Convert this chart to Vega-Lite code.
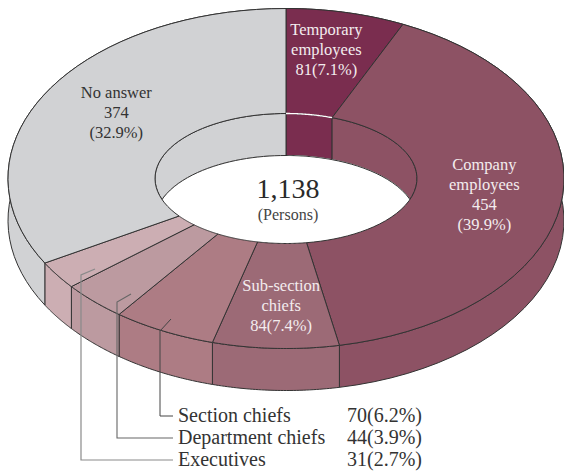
{"$schema":"https://vega.github.io/schema/vega-lite/v6.json","width":564,"height":473,"padding":0,"autosize":{"type":"none"},"background":"white","view":{"stroke":null},
"datasets":{"slices":[
{"seq":1,"role":"Temporary employees","value":81,"share":7.1,"lines":["Temporary","employees","81(7.1%)"]},
{"seq":2,"role":"Company employees","value":454,"share":39.9,"lines":["Company","employees","454","(39.9%)"]},
{"seq":3,"role":"Sub-section chiefs","value":84,"share":7.4,"lines":["Sub-section","chiefs","84(7.4%)"]},
{"seq":4,"role":"Section chiefs","value":70,"share":6.2,"lines":[]},
{"seq":5,"role":"Department chiefs","value":44,"share":3.9,"lines":[]},
{"seq":6,"role":"Executives","value":31,"share":2.7,"lines":[]},
{"seq":7,"role":"No answer","value":374,"share":32.9,"lines":["No answer","374","(32.9%)"]}],
"leaders":[
{"role":"Section chiefs","step":1,"px":-115,"py":-140.5},{"role":"Section chiefs","step":2,"px":-126,"py":-152.5},{"role":"Section chiefs","step":3,"px":-126,"py":-237.5},{"role":"Section chiefs","step":4,"px":-113,"py":-237.5},
{"role":"Department chiefs","step":1,"px":-155,"py":-115.5},{"role":"Department chiefs","step":2,"px":-169,"py":-123.5},{"role":"Department chiefs","step":3,"px":-169,"py":-259.5},{"role":"Department chiefs","step":4,"px":-113,"py":-259.5},
{"role":"Executives","step":1,"px":-191,"py":-90.5},{"role":"Executives","step":2,"px":-205,"py":-96.5},{"role":"Executives","step":3,"px":-205,"py":-281.5},{"role":"Executives","step":4,"px":-113,"py":-281.5}]},
"data":{"name":"slices"},
"transform":[
{"window":[{"op":"sum","field":"value","as":"cum"}],"sort":[{"field":"seq"}],"frame":[null,0]},
{"joinaggregate":[{"op":"sum","field":"value","as":"total"}]},
{"calculate":"2*PI*datum.cum/datum.total","as":"t1"},
{"calculate":"datum.t1-2*PI*datum.value/datum.total","as":"t0"},
{"calculate":"[0,1,2,3,4,5,6,7,8,9,10,11,12,13,14,15,16,17,18,19,20,21,22,23,24,25,26,27,28,29,30,31,32,33,34,35,36,37,38,39,40,41,42,43,44,45,46,47,48,49,50,51,52,53,54,55,56,57,58,59,60,61,62,63,64,65,66,67,68,69,70,71,72,73,74,75,76,77,78,79,80,81,82]","as":"idx"},
{"flatten":["idx"]},
{"calculate":"datum.idx<=40||datum.idx==82","as":"arcA"},
{"calculate":"datum.idx==82?0:(datum.idx<=40?datum.idx/40:(81-datum.idx)/40)","as":"f"},
{"calculate":"datum.t0+(datum.t1-datum.t0)*datum.f","as":"t"},
{"calculate":"datum.t-0.03*abs(sin(datum.t))","as":"t"},
{"calculate":"atan2(0.811*sin(datum.t),cos(datum.t))","as":"ti"},
{"calculate":"278*sin(datum.t)","as":"ox"},
{"calculate":"170*cos(datum.t)","as":"oy"},
{"calculate":"131*sin(datum.ti)","as":"ix"},
{"calculate":"65*cos(datum.ti)","as":"iy"}
],
"layer":[
{"transform":[{"calculate":"datum.ox","as":"gx"},{"calculate":"datum.arcA?datum.oy:datum.oy-42","as":"gy"}],
 "mark":{"type":"line","filled":true,"stroke":"#333333","strokeWidth":1,"strokeJoin":"miter"},
 "encoding":{"x":{"field":"gx","type":"quantitative","scale":{"domain":[-286,278],"nice":false,"zero":false},"axis":null},"y":{"field":"gy","type":"quantitative","scale":{"domain":[-294.5,178.5],"nice":false,"zero":false},"axis":null},"order":{"field":"idx","type":"quantitative"},"fill":{"field":"role","type":"nominal","legend":null,"scale":{"domain":["Temporary employees","Company employees","Sub-section chiefs","Section chiefs","Department chiefs","Executives","No answer"],"range":["#7a2d4f","#8d5264","#9c6a76","#ad7c84","#bc9aa0","#ccaeb3","#d1d2d4"]}}}},
{"transform":[{"calculate":"datum.ix","as":"gx"},{"calculate":"datum.arcA?datum.iy:datum.iy-42","as":"gy"}],
 "mark":{"type":"line","filled":true,"stroke":"#333333","strokeWidth":1},
 "encoding":{"x":{"field":"gx","type":"quantitative"},"y":{"field":"gy","type":"quantitative"},"order":{"field":"idx","type":"quantitative"},"fill":{"field":"role","type":"nominal","legend":null}}},
{"transform":[{"calculate":"datum.arcA?datum.ix:0","as":"gx"},{"calculate":"datum.arcA?datum.iy-42:-42","as":"gy"}],
 "mark":{"type":"line","filled":true,"fill":"#ffffff","stroke":"#ffffff","strokeWidth":1},
 "encoding":{"x":{"field":"gx","type":"quantitative"},"y":{"field":"gy","type":"quantitative"},"order":{"field":"idx","type":"quantitative"},"detail":{"field":"role","type":"nominal"}}},
{"transform":[{"filter":"datum.idx<=40"},{"calculate":"datum.ix","as":"gx"},{"calculate":"datum.iy-42","as":"gy"}],
 "mark":{"type":"line","stroke":"#333333","strokeWidth":1},
 "encoding":{"x":{"field":"gx","type":"quantitative"},"y":{"field":"gy","type":"quantitative"},"order":{"field":"idx","type":"quantitative"},"detail":{"field":"role","type":"nominal"}}},
{"transform":[{"calculate":"datum.arcA?datum.ox:datum.ix","as":"gx"},{"calculate":"datum.arcA?datum.oy:datum.iy","as":"gy"}],
 "mark":{"type":"line","filled":true,"stroke":"#333333","strokeWidth":1,"strokeJoin":"miter"},
 "encoding":{"x":{"field":"gx","type":"quantitative"},"y":{"field":"gy","type":"quantitative"},"order":{"field":"idx","type":"quantitative"},"fill":{"field":"role","type":"nominal","legend":null}}},
{"transform":[{"filter":"datum.seq==1&&datum.idx<=40"}],
 "mark":{"type":"line","stroke":"#ffffff","strokeWidth":1.3},
 "encoding":{"x":{"field":"ix","type":"quantitative"},"y":{"field":"iy","type":"quantitative"},"order":{"field":"idx","type":"quantitative"}}},
{"data":{"name":"leaders"},
 "mark":{"type":"line","strokeJoin":"miter"},
 "encoding":{"x":{"field":"px","type":"quantitative"},"y":{"field":"py","type":"quantitative"},"order":{"field":"step","type":"quantitative"},
  "stroke":{"field":"role","type":"nominal","legend":null,"scale":{"domain":["Section chiefs","Department chiefs","Executives"],"range":["#444444","#666666","#8a8a8a"]}},
  "strokeWidth":{"field":"role","type":"nominal","legend":null,"scale":{"domain":["Section chiefs","Department chiefs","Executives"],"range":[1,1.2,1.5]}}}},
{"data":{"name":"leaders"},"transform":[{"filter":"datum.step==4"}],
 "mark":{"type":"text","align":"left","baseline":"middle","dx":5,"font":"Liberation Serif","fontSize":20,"fill":"#333333"},
 "encoding":{"x":{"field":"px","type":"quantitative"},"y":{"field":"py","type":"quantitative"},"text":{"field":"role","type":"nominal"}}},
{"data":{"name":"leaders"},"transform":[{"filter":"datum.step==4"},{"lookup":"role","from":{"data":{"name":"slices"},"key":"role","fields":["value","share"]}},{"calculate":"datum.value+'('+format(datum.share,'.1f')+'%)'","as":"figure"}],
 "mark":{"type":"text","align":"left","baseline":"middle","dx":174,"font":"Liberation Serif","fontSize":20,"fill":"#333333"},
 "encoding":{"x":{"field":"px","type":"quantitative"},"y":{"field":"py","type":"quantitative"},"text":{"field":"figure","type":"nominal"}}},
{"transform":[{"filter":"datum.idx==0"},{"calculate":"(datum.t0+datum.t1)/2","as":"mid"},{"calculate":"length(datum.lines)","as":"n"},{"flatten":["lines"],"as":["line"]},{"window":[{"op":"row_number","as":"lineNo"}],"groupby":["role"]},
  {"calculate":"200*sin(datum.mid)+(datum.seq==1?-4:datum.seq==3?4:datum.seq==7?2:0)","as":"lx"},
  {"calculate":"128*cos(datum.mid)+(datum.seq==1?4:0)-(datum.lineNo-(datum.n+1)/2)*20","as":"ly"},
  {"calculate":"datum.seq==7?'#333333':'#f3ecee'","as":"ink"}],
 "mark":{"type":"text","align":"center","baseline":"middle","font":"Liberation Serif","fontSize":16.5},
 "encoding":{"x":{"field":"lx","type":"quantitative"},"y":{"field":"ly","type":"quantitative"},"text":{"field":"line","type":"nominal"},"fill":{"field":"ink","type":"nominal","scale":null}}},
{"transform":[{"filter":"datum.idx==0"},{"aggregate":[{"op":"sum","field":"value","as":"sumValue"}]}],
 "mark":{"type":"text","align":"center","baseline":"middle","font":"Liberation Serif","fontSize":28,"fill":"#2a2a2a","dx":2,"dy":11},
 "encoding":{"x":{"datum":0},"y":{"datum":0},"text":{"field":"sumValue","type":"quantitative","format":","}}},
{"transform":[{"filter":"datum.idx==0&&datum.seq==1"}],
 "mark":{"type":"text","align":"center","baseline":"middle","font":"Liberation Serif","fontSize":16,"fill":"#444444","dx":2,"dy":36},
 "encoding":{"x":{"datum":0},"y":{"datum":0},"text":{"value":"(Persons)"}}}
]}
